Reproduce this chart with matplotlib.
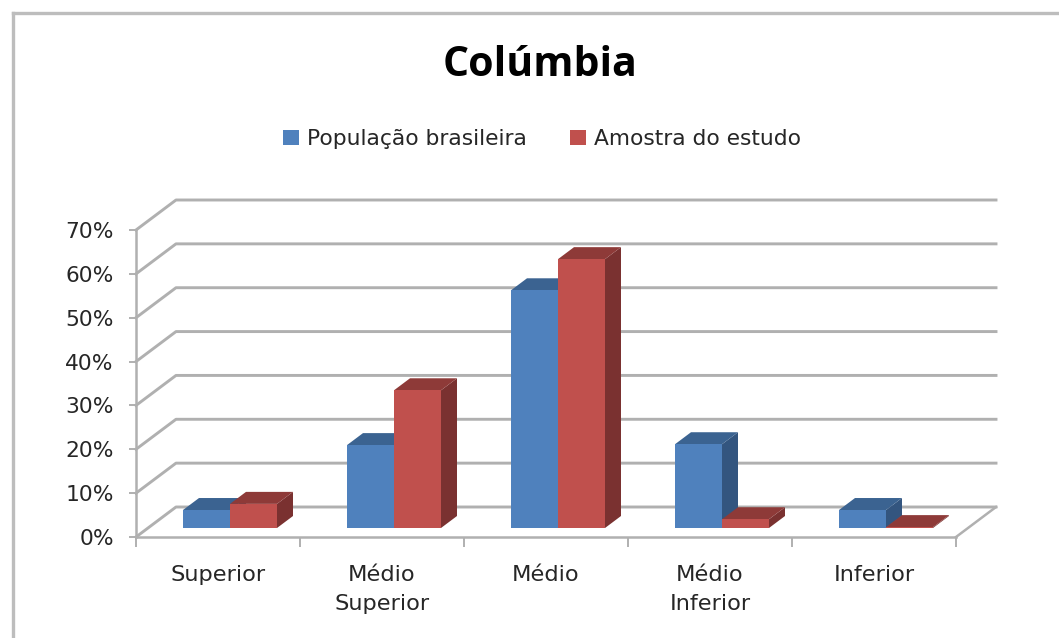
import matplotlib
matplotlib.use("Agg")
import matplotlib.pyplot as plt
from matplotlib.lines import Line2D
from matplotlib.patches import Patch, Polygon

# -----------------------------------------------------------
# Data
# -----------------------------------------------------------

categories = ["Superior", "Médio\nSuperior", "Médio", "Médio\nInferior", "Inferior"]
populacao = [4.1, 18.9, 54.2, 19.1, 4.1]
amostra = [5.5, 31.4, 61.3, 2.0, 0.2]
series_names = ["População brasileira", "Amostra do estudo"]
y_ticks = [0, 10, 20, 30, 40, 50, 60, 70]
y_tick_labels = ["0%", "10%", "20%", "30%", "40%", "50%", "60%", "70%"]

# -----------------------------------------------------------
# Plot settings
# -----------------------------------------------------------

W, H = 1059, 638
LEFT, RIGHT, BOTTOM, TOP = 136, 956, 537, 230

# pixel sizes of the fake 3D look, turned into data units below
cat_px = (RIGHT - LEFT) / 5
val_px = (BOTTOM - TOP) / 70
wall_dx, wall_dy = 40 / cat_px, 30 / val_px
bar_dx, bar_dy = 16 / cat_px, 12 / val_px
front_dx, front_dy = 12 / cat_px, 9 / val_px
bar_w = 47 / cat_px

GRID = "#b0b0b0"
TEXT = "#262626"
BLUE = ("#4f81bd", "#3b6391", "#33557f")
RED = ("#c0504d", "#8e3a38", "#7a3130")

plt.rcParams.update({"font.family": "DejaVu Sans", "font.size": 15.7})

fig = plt.figure(figsize=(W / 100, H / 100), dpi=100)
ax = fig.add_axes([LEFT / W, 1 - BOTTOM / H, (RIGHT - LEFT) / W, (BOTTOM - TOP) / H])
ax.set_xlim(0, 5)
ax.set_ylim(0, 70)
ax.patch.set_visible(False)

# -----------------------------------------------------------
# Walls and floor
# -----------------------------------------------------------

for v in y_ticks:
    ax.plot([0, wall_dx, 5 + wall_dx], [v, v + wall_dy, v + wall_dy],
            color=GRID, lw=2.1, clip_on=False, zorder=1)
ax.plot([5, 5 + wall_dx], [0, wall_dy], color=GRID, lw=1.8, clip_on=False, zorder=1)


def draw_bar(x, value, colors):
    x0 = x + front_dx
    x1 = x0 + bar_w
    y0 = front_dy
    y1 = front_dy + value
    front, top, side = colors
    ax.add_patch(Polygon([(x1, y0), (x1 + bar_dx, y0 + bar_dy), (x1 + bar_dx, y1 + bar_dy), (x1, y1)],
                         facecolor=side, edgecolor="none", clip_on=False, zorder=2))
    ax.add_patch(Polygon([(x0, y1), (x1, y1), (x1 + bar_dx, y1 + bar_dy), (x0 + bar_dx, y1 + bar_dy)],
                         facecolor=top, edgecolor="none", clip_on=False, zorder=2))
    ax.add_patch(Polygon([(x0, y0), (x1, y0), (x1, y1), (x0, y1)],
                         facecolor=front, edgecolor="none", clip_on=False, zorder=2))


for i in range(len(categories)):
    left_edge = i + 0.5 - bar_w
    draw_bar(left_edge, populacao[i], BLUE)
    draw_bar(left_edge + bar_w, amostra[i], RED)

# -----------------------------------------------------------
# Axes
# -----------------------------------------------------------

for side in ["top", "right"]:
    ax.spines[side].set_visible(False)
for side in ["left", "bottom"]:
    ax.spines[side].set_color(GRID)
    ax.spines[side].set_linewidth(1.8)

ax.set_yticks(y_ticks)
ax.set_yticklabels(y_tick_labels, color=TEXT)
ax.tick_params(axis="y", length=5, width=1.4, color=GRID, pad=11)

ax.set_xticks(range(6))
ax.set_xticklabels([])
ax.tick_params(axis="x", which="major", length=7, width=1.4, color=GRID)
ax.set_xticks([i + 0.5 for i in range(5)], minor=True)
ax.set_xticklabels(categories, minor=True, color=TEXT, linespacing=1.55, fontsize=16.2)
ax.tick_params(axis="x", which="minor", length=0, pad=20)

# -----------------------------------------------------------
# Title, legend, chart frame
# -----------------------------------------------------------

fig.text(540 / W, 1 - 65 / H, "Colúmbia", ha="center", va="center",
         fontsize=29.5, fontweight="bold", family="Open Sans", color="black")

handles = [Patch(facecolor=BLUE[0], label=series_names[0]),
           Patch(facecolor=RED[0], label=series_names[1])]
fig.legend(handles=handles, loc="center", bbox_to_anchor=(542 / W, 1 - 139 / H), ncol=2,
           frameon=False, handlelength=0.72, handleheight=0.72, handletextpad=0.35,
           columnspacing=2.0, labelcolor=TEXT, fontsize=15.7)

fig.add_artist(Line2D([12.5 / W, 12.5 / W], [0, 1 - 12.5 / H], color="#bdbdbd", lw=2.4))
fig.add_artist(Line2D([12.5 / W, 1], [1 - 12.5 / H, 1 - 12.5 / H], color="#bdbdbd", lw=2.4))

fig.savefig("out.png", dpi=100)
